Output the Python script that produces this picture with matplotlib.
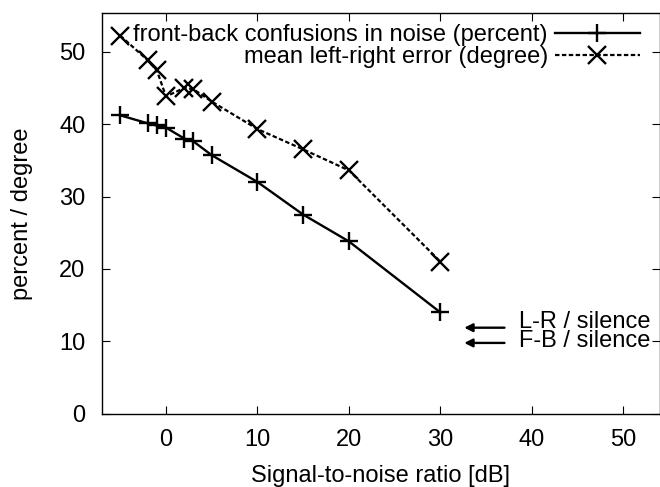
import matplotlib
matplotlib.use("Agg")
import matplotlib.pyplot as plt

plt.rcParams['font.family'] = ['Liberation Sans', 'DejaVu Sans']

snr = [-5, -2, -1, 0, 2, 3, 5, 10, 15, 20, 30]
frontback = [41.2, 40.1, 39.8, 39.5, 38.0, 37.6, 35.7, 32.0, 27.5, 23.8, 14.0]
leftright = [52.2, 48.8, 47.4, 43.8, 45.0, 44.8, 43.1, 39.3, 36.5, 33.6, 21.0]

silence_labels = ["L-R / silence", "F-B / silence"]
silence_values = [11.9, 9.8]
label_shift = [0.85, 0.25]

xticks = [0, 10, 20, 30, 40, 50]
yticks = [0, 10, 20, 30, 40, 50]

fs = 17

fig = plt.figure(figsize=(6.6, 4.87), dpi=100)
ax = fig.add_axes([0.1545, 0.15, 0.8455, 0.823])

ax.plot(snr, frontback, '-', color='k', lw=1.7, marker='+', ms=13, mew=1.7,
        label="front-back confusions in noise (percent)")
ax.plot(snr, leftright, color='k', lw=1.6, ls=(0, (2, 1.1)), marker='x', ms=13, mew=1.7,
        label="mean left-right error (degree)")

for lab, v, d in zip(silence_labels, silence_values, label_shift):
    ax.annotate("", xy=(32.6, v), xytext=(37.0, v),
                arrowprops=dict(arrowstyle='-|>', color='k', lw=1.7,
                                mutation_scale=12, shrinkA=0, shrinkB=0))
    ax.text(38.6, v + d, lab, fontsize=fs, va='center', ha='left')

ax.set_xlim(-7, 54)
ax.set_ylim(0, 55.3)
ax.set_xticks(xticks)
ax.set_yticks(yticks)
ax.tick_params(direction='in', length=6, width=0.8, labelsize=fs,
               top=True, right=True)
ax.tick_params(axis='x', pad=11)
ax.tick_params(axis='y', pad=12)
for s in ax.spines.values():
    s.set_linewidth(1.0)

ax.set_xlabel("Signal-to-noise ratio [dB]", fontsize=fs, labelpad=10)
ax.set_ylabel("percent / degree", fontsize=fs, labelpad=19)

leg = ax.legend(loc='upper right', frameon=False, markerfirst=False, fontsize=fs,
                handlelength=3.6, handletextpad=0.3, labelspacing=0.0,
                borderaxespad=0.0, borderpad=0.45, bbox_to_anchor=(0.983, 1.0))

fig.savefig("out.png", dpi=100)
